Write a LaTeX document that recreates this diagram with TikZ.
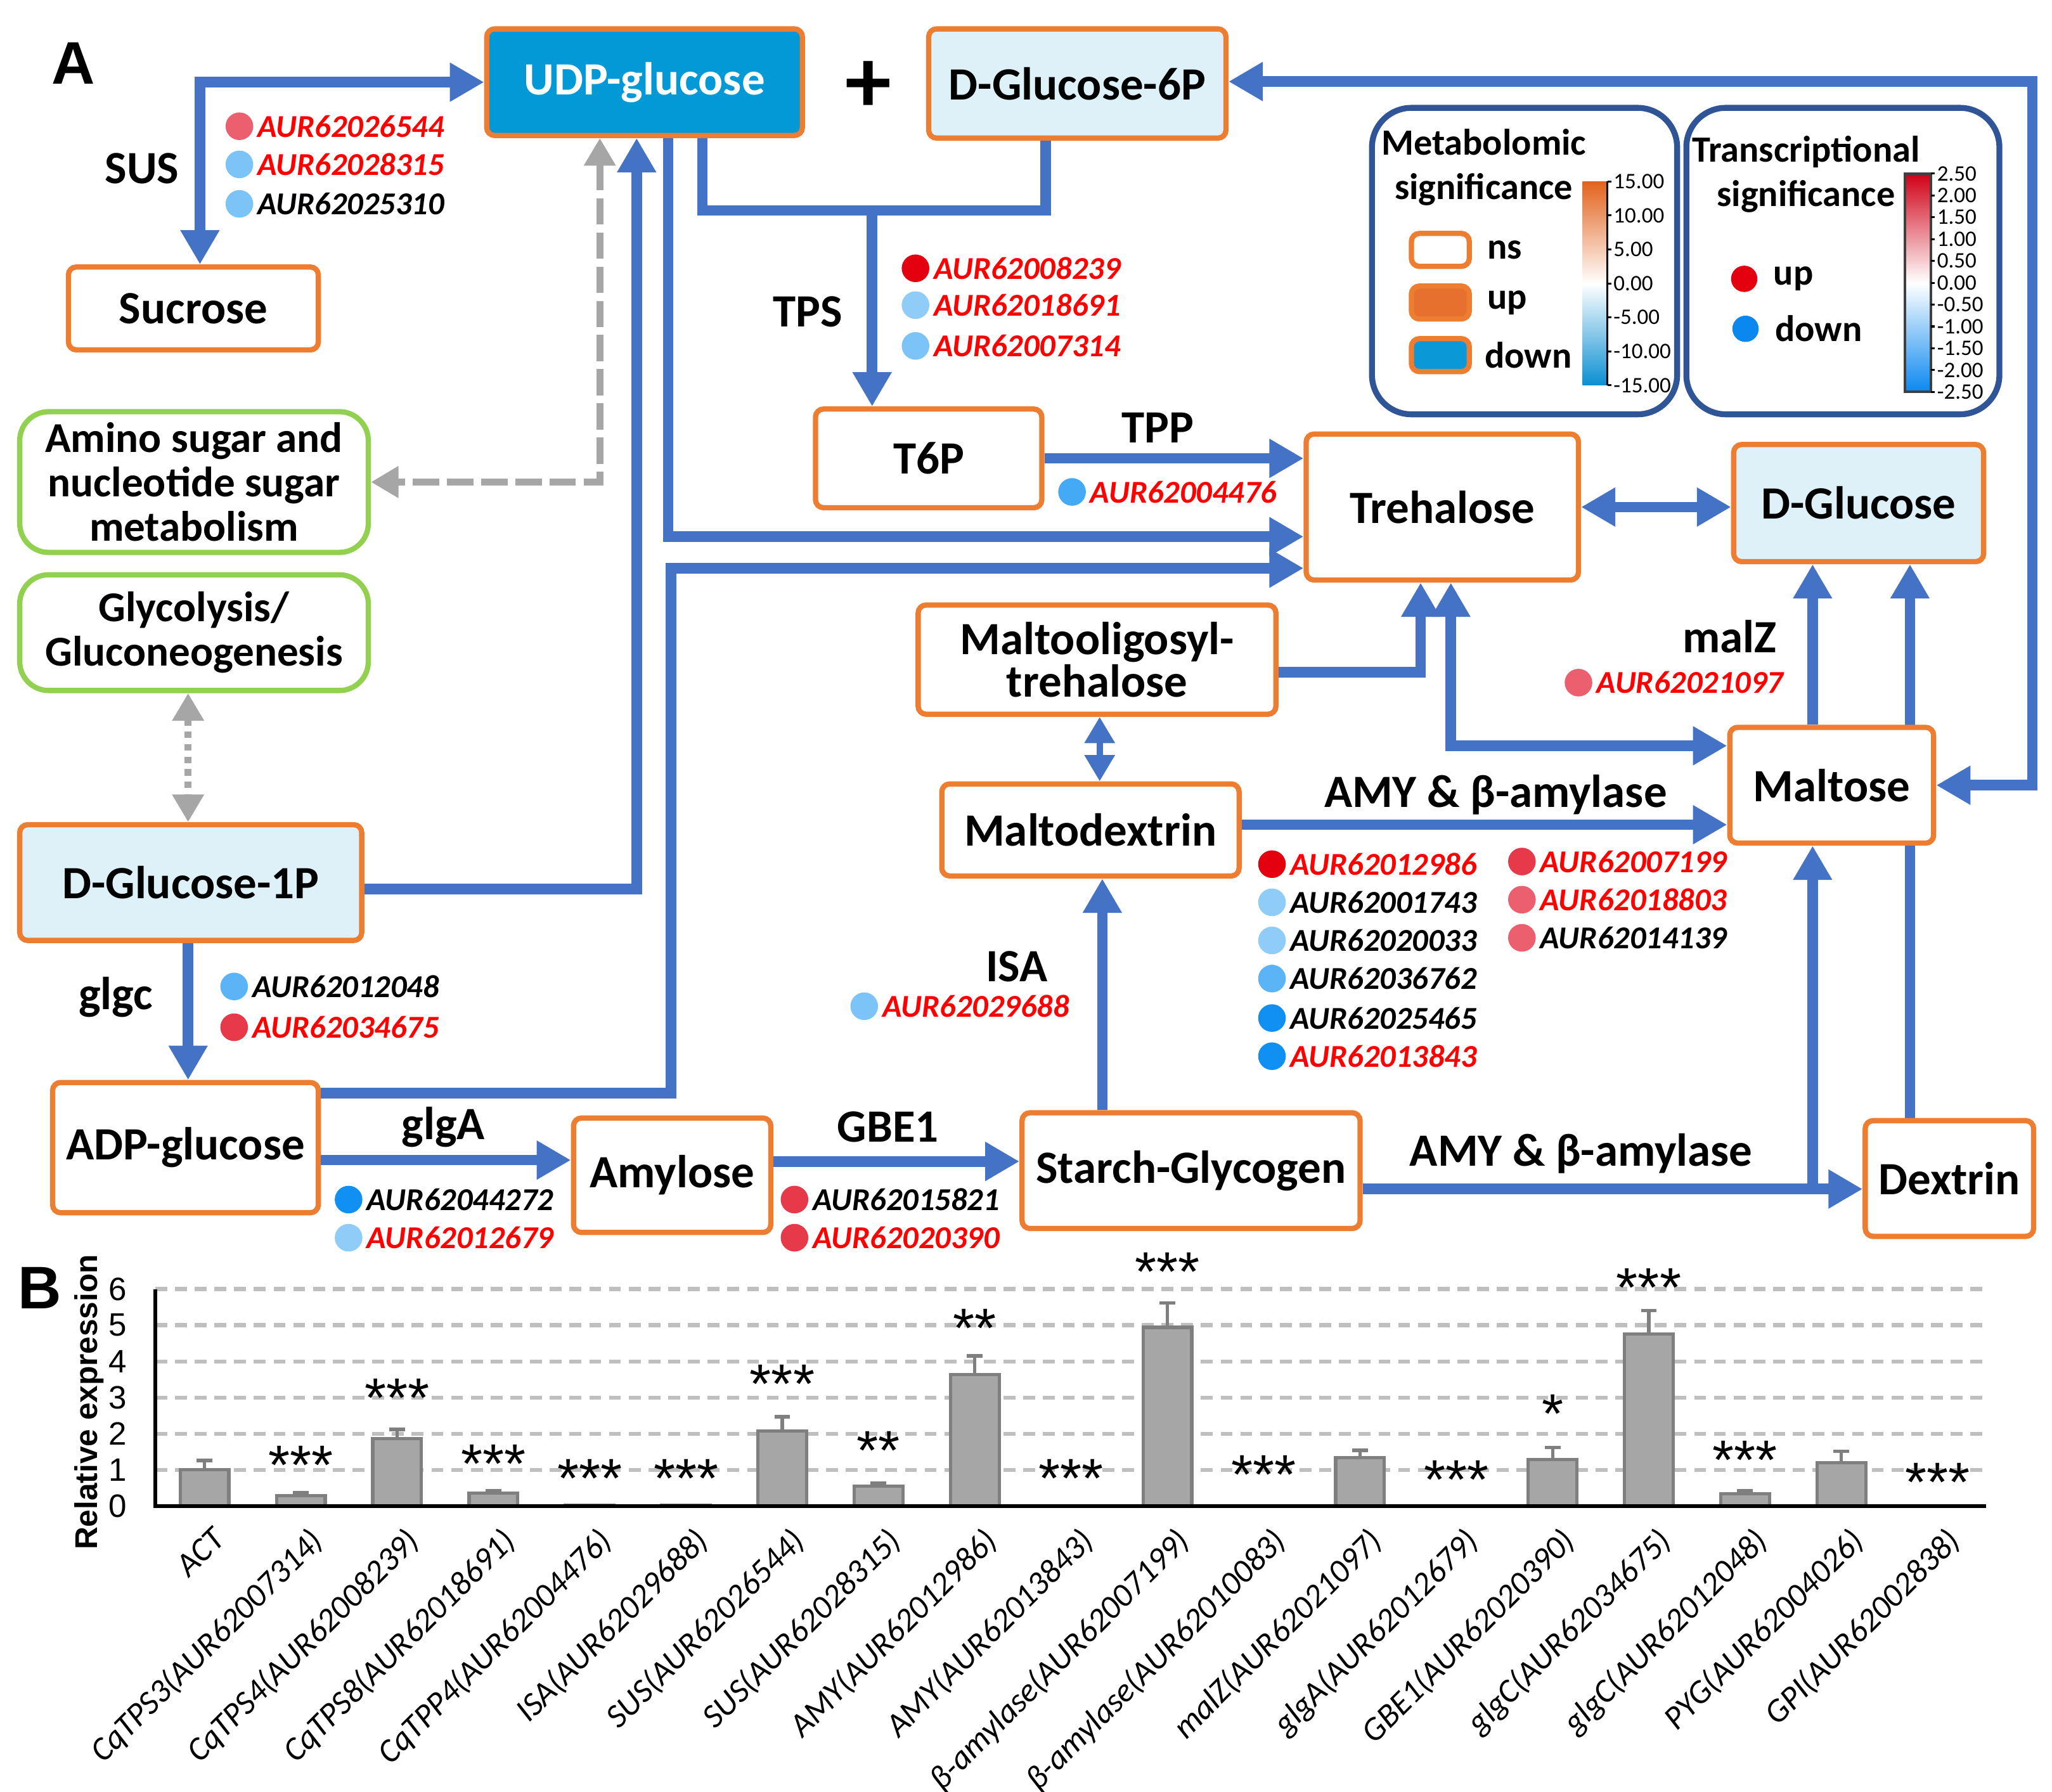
\documentclass[tikz,border=0pt]{standalone}
\usepackage{fontspec}
\setmainfont{Carlito}
\newfontfamily\arialfont{Liberation Sans}
\usetikzlibrary{arrows.meta,positioning,backgrounds}

\definecolor{flowblue}{HTML}{4472C4}
\definecolor{boxorange}{HTML}{ED7D31}
\definecolor{udpblue}{HTML}{0399D6}
\definecolor{paleblue}{HTML}{DEF1F9}
\definecolor{pathgreen}{HTML}{92D050}
\definecolor{legendnavy}{HTML}{2F5597}
\definecolor{linkgray}{HTML}{A6A6A6}
\definecolor{idred}{HTML}{FF0000}
\definecolor{upred}{HTML}{E3000F}
\definecolor{upmid}{HTML}{E63A4A}
\definecolor{uplight}{HTML}{EC5F6E}
\definecolor{downpale}{HTML}{8FCDF8}
\definecolor{downlight}{HTML}{7CC4F7}
\definecolor{downsoft}{HTML}{5AB4F6}
\definecolor{downmid}{HTML}{44AAF5}
\definecolor{downdeep}{HTML}{0F90F2}
\definecolor{metup}{HTML}{E8702E}
\definecolor{metdown}{HTML}{0A98D6}
\definecolor{metorange}{HTML}{E2621C}
\definecolor{metblue}{HTML}{0A8FD2}
\definecolor{transred}{HTML}{D00016}
\definecolor{transblue}{HTML}{0A88F0}
\definecolor{barfill}{HTML}{A6A6A6}
\definecolor{baredge}{HTML}{7F7F7F}
\definecolor{gridgray}{HTML}{BFBFBF}

\tikzset{
	met/.style={draw=boxorange, line width=0.4mm, rounded corners=0.6mm, align=center, inner sep=0pt, font=\bfseries\fontsize{10}{9.2}\selectfont},
	pathway/.style={draw=pathgreen, line width=0.4mm, rounded corners=2.2mm, align=center, inner sep=0pt, font=\bfseries\fontsize{9.2}{9.6}\selectfont},
	flow/.style={draw=flowblue, line width=0.8mm, ->},
	flowboth/.style={draw=flowblue, line width=0.8mm, <->},
	link/.style={draw=linkgray, line width=0.55mm, <->, >={Triangle[length=2.1mm,width=2.3mm]}},
	enz/.style={font=\bfseries\fontsize{10}{12}\selectfont, inner sep=0pt},
	gdot/.style={circle, minimum size=2.1mm, inner sep=0pt, label distance=0.35mm},
	gid/.style={font=\bfseries\itshape\fontsize{6.9}{8}\selectfont, inner sep=0.2mm},
	legbox/.style={draw=legendnavy, line width=0.45mm, rounded corners=3mm},
	legtext/.style={font=\bfseries\fontsize{8}{9.6}\selectfont, inner sep=0pt, align=center},
	swatch/.style={draw=boxorange, line width=0.4mm, rounded corners=0.6mm, minimum width=4.4mm, minimum height=2.5mm, inner sep=0pt},
	ticklab/.style={font=\fontsize{4.8}{5}\selectfont, inner sep=0pt, anchor=west},
	panel/.style={font=\arialfont\bfseries\fontsize{13}{14}\selectfont, inner sep=0pt},
	bar/.style={fill=barfill, draw=baredge, line width=0.25mm},
	errbar/.style={draw=baredge, line width=0.25mm},
	gridline/.style={draw=gridgray, line width=0.3mm, dash pattern=on 0.9mm off 0.6mm},
	star/.style={font=\arialfont\fontsize{12}{12}\selectfont, inner sep=0pt},
	genelab/.style={font=\itshape\fontsize{7.2}{8}\selectfont, rotate=45, anchor=north east, inner sep=0pt},
	ytick/.style={font=\arialfont\fontsize{7}{8}\selectfont, anchor=east, inner sep=0pt}
}

\begin{document}
\begin{tikzpicture}[x=0.1mm, y=-0.1mm, >={Triangle[length=2.6mm,width=2.8mm]}]
	\useasboundingbox (0,0) rectangle (1560,1362);

	\node[panel] (panelA) at (56,48) {A};
	\node[met, fill=udpblue, text=white, minimum width=24mm, minimum height=8.1mm] (udp) at (490,62.5) {UDP-glucose};
	\node[font=\bfseries\fontsize{20}{20}\selectfont, inner sep=0pt] (plus) at (660,66) {+};
	\node[met, fill=paleblue, minimum width=22.6mm, minimum height=8.3mm] (g6p) at (819,63.5) {D-Glucose-6P};
	\node[met, fill=white, minimum width=19mm, minimum height=6.3mm] (sucrose) at (147,234.5) {Sucrose};
	\node[pathway, minimum width=26.5mm, minimum height=10.7mm] (amino) at (147.5,366.5) {Amino sugar and\\nucleotide sugar\\metabolism};
	\node[pathway, minimum width=26.5mm, minimum height=8.8mm] (glyco) at (147.5,481) {Glycolysis/\\Gluconeogenesis};
	\node[met, fill=paleblue, minimum width=26mm, minimum height=8.8mm] (g1p) at (145,671) {D-Glucose-1P};
	\node[met, fill=white, minimum width=20.2mm, minimum height=9.9mm] (adp) at (141,872.5) {ADP-glucose};
	\node[met, fill=white, minimum width=15mm, minimum height=8.7mm] (amylose) at (511,893.5) {Amylose};
	\node[met, fill=white, minimum width=25.7mm, minimum height=8.8mm] (starch) at (905.5,890) {Starch-Glycogen};
	\node[met, fill=white, minimum width=12.8mm, minimum height=8.8mm] (dextrin) at (1482,896) {Dextrin};
	\node[met, fill=white, minimum width=22.6mm, minimum height=7mm] (mdex) at (829,631) {Maltodextrin};
	\node[met, fill=white, minimum width=27.2mm, minimum height=8.3mm] (moligo) at (834,501.5) {Maltooligosyl-\\trehalose};
	\node[met, fill=white, minimum width=17.2mm, minimum height=7.5mm] (t6p) at (706,348.5) {T6P};
	\node[met, fill=white, minimum width=20.7mm, minimum height=11.1mm] (treh) at (1096.5,385.5) {Trehalose};
	\node[met, fill=paleblue, minimum width=19mm, minimum height=8.9mm] (glc) at (1413,382.5) {D-Glucose};
	\node[met, fill=white, minimum width=15.5mm, minimum height=8.8mm] (maltose) at (1392.5,597) {Maltose};

	\node[enz] (sus) at (108,128) {SUS};
	\node[enz] (tps) at (614,237) {TPS};
	\node[enz] (tpp) at (880,325) {TPP};
	\node[enz] (glgc) at (88,758) {glgc};
	\node[enz] (glga) at (337,857) {glgA};
	\node[enz] (gbe) at (675,857) {GBE1};
	\node[enz] (isa) at (773,735) {ISA};
	\node[enz] (malz) at (1315,484) {malZ};
	\node[enz] (amyup) at (1137,604) {AMY \& β-amylase};
	\node[enz] (amylow) at (1202,877) {AMY \& β-amylase};

	\draw[flowboth] (udp.west) -| ([xshift=0.5mm]sucrose.north);
	\coordinate (tpsfork) at (663,160);
	\draw[flow, -] ([xshift=4.4mm]udp.south) |- (tpsfork) -| ([xshift=-2.4mm]g6p.south);
	\draw[flow] (tpsfork) -- (tpsfork |- t6p.north);
	\draw[flow] (t6p.east) -- (t6p.east -| treh.west);
	\draw[flow] ([xshift=1.8mm]udp.south) |- ([yshift=-2.25mm]treh.west);
	\draw[flow] ([yshift=-0.5mm]g1p.east) -| ([xshift=-0.6mm]udp.south);
	\draw[link, dash pattern=on 2mm off 0.6mm] ([xshift=-3.4mm]udp.south) |- (amino.east);
	\draw[link, dash pattern=on 0.5mm off 0.45mm] ([xshift=-0.45mm]glyco.south) -- ([xshift=-0.45mm]glyco.south |- g1p.north);
	\draw[flow] ([xshift=-0.2mm]g1p.south) -- ([xshift=-0.2mm]g1p.south |- adp.north);
	\coordinate (adpbend) at (510,432);
	\draw[flow] ([yshift=4.15mm]adp.east) -| (adpbend) -- (adpbend -| treh.west);
	\draw[flow] ([yshift=-0.95mm]adp.east) -- ([yshift=-0.95mm]adp.east -| amylose.west);
	\draw[flow] ([yshift=1.05mm]amylose.east) -- ([yshift=1.05mm]amylose.east -| starch.west);
	\draw[flow] ([xshift=-6.75mm]starch.north) -- ([xshift=-6.75mm]starch.north |- mdex.south);
	\draw[flowboth, line width=0.5mm, >={Triangle[length=2mm,width=2.2mm]}] ([xshift=0.2mm]moligo.south) -- ([xshift=0.2mm]moligo.south |- mdex.north);
	\draw[flow] ([yshift=-0.95mm]moligo.east) -| ([xshift=-1.65mm]treh.south);
	\draw[flowboth] ([xshift=0.65mm]treh.south) |- ([yshift=3mm]maltose.west);
	\draw[flowboth] (treh.east) -- (treh.east -| glc.west);
	\draw[flow] ([xshift=-1.45mm]maltose.north) -- ([xshift=-1.45mm]maltose.north |- glc.south);
	\begin{pgfonlayer}{background}
		\draw[flow] ([xshift=-3mm]dextrin.north) -- ([xshift=-3mm]dextrin.north |- glc.south);
	\end{pgfonlayer}
	\draw[flow] ([yshift=0.4mm]mdex.east) -- ([yshift=0.4mm]mdex.east -| maltose.west);
	\draw[flow] ([yshift=-1.4mm]starch.east) -- ([yshift=-1.4mm]starch.east -| dextrin.west);
	\coordinate (dexfork) at (1378,904);
	\draw[flow] (dexfork) -- (dexfork |- maltose.south);
	\coordinate (loopcorner) at (1545,62);
	\draw[flowboth] (maltose.east) -| (loopcorner) -- (loopcorner -| g6p.east);

	\node[gdot, fill=uplight, label={[gid, idred]right:AUR62026544}] (sus1) at (182,96) {};
	\node[gdot, fill=downlight, label={[gid, idred]right:AUR62028315}] (sus2) at (182,125) {};
	\node[gdot, fill=downlight, label={[gid]right:AUR62025310}] (sus3) at (182,155) {};
	\node[gdot, fill=upred, label={[gid, idred]right:AUR62008239}] (tps1) at (696,204) {};
	\node[gdot, fill=downpale, label={[gid, idred]right:AUR62018691}] (tps2) at (696,232) {};
	\node[gdot, fill=downlight, label={[gid, idred]right:AUR62007314}] (tps3) at (696,263) {};
	\node[gdot, fill=downmid, label={[gid, idred]right:AUR62004476}] (tpp1) at (815,374) {};
	\node[gdot, fill=uplight, label={[gid, idred]right:AUR62021097}] (malz1) at (1200,519) {};
	\node[gdot, fill=upred, label={[gid, idred]right:AUR62012986}] (amy1) at (967,657) {};
	\node[gdot, fill=downpale, label={[gid]right:AUR62001743}] (amy2) at (967,686) {};
	\node[gdot, fill=downpale, label={[gid]right:AUR62020033}] (amy3) at (967,715) {};
	\node[gdot, fill=downsoft, label={[gid]right:AUR62036762}] (amy4) at (967,744) {};
	\node[gdot, fill=downdeep, label={[gid]right:AUR62025465}] (amy5) at (967,774) {};
	\node[gdot, fill=downdeep, label={[gid, idred]right:AUR62013843}] (amy6) at (967,803) {};
	\node[gdot, fill=upmid, label={[gid, idred]right:AUR62007199}] (bam1) at (1157,655) {};
	\node[gdot, fill=uplight, label={[gid, idred]right:AUR62018803}] (bam2) at (1157,684) {};
	\node[gdot, fill=uplight, label={[gid]right:AUR62014139}] (bam3) at (1157,713) {};
	\node[gdot, fill=downlight, label={[gid, idred]right:AUR62029688}] (isa1) at (657,765) {};
	\node[gdot, fill=downsoft, label={[gid]right:AUR62012048}] (glgc1) at (178,750) {};
	\node[gdot, fill=upmid, label={[gid, idred]right:AUR62034675}] (glgc2) at (178,781) {};
	\node[gdot, fill=downdeep, label={[gid]right:AUR62044272}] (glga1) at (265,912) {};
	\node[gdot, fill=downpale, label={[gid, idred]right:AUR62012679}] (glga2) at (265,941) {};
	\node[gdot, fill=upmid, label={[gid]right:AUR62015821}] (gbe1) at (604,912) {};
	\node[gdot, fill=upmid, label={[gid, idred]right:AUR62020390}] (gbe2) at (604,941) {};

	\node[legbox, minimum width=23.2mm, minimum height=23.3mm] (metbox) at (1159,198.5) {};
	\node[legtext] (mettitle) at (1128,127) {Metabolomic\\significance};
	\node[swatch, fill=white] (nsbox) at (1095,190) {};
	\node[legtext, right=1.1mm of nsbox] (nslab) {ns};
	\node[swatch, fill=metup] (upbox) at (1095,230) {};
	\node[legtext, right=1.1mm of upbox] (uplab) {up};
	\node[swatch, fill=metdown] (downbox) at (1095,270) {};
	\node[legtext, right=0.9mm of downbox] (downlab) {down};
	\shade[top color=metorange, bottom color=metblue, middle color=white] (1203,138) rectangle (1222,293);
	\draw[line width=0.15mm] (1222,138) -- (1222,293);
	\foreach \t [count=\k from 0] in {15.00,10.00,5.00,0.00,-5.00,-10.00,-15.00} {
		\draw[line width=0.15mm] (1222,{138+25.83*\k}) -- (1225,{138+25.83*\k});
		\node[ticklab] (mtick\k) at (1226,{138+25.83*\k}) {\t};
	}

	\node[legbox, minimum width=23.8mm, minimum height=23.3mm] (trbox) at (1401,198.5) {};
	\node[legtext] (trtitle) at (1373,132.5) {Transcriptional\\significance};
	\node[gdot, fill=upred, minimum size=2mm] (updot) at (1326,212) {};
	\node[legtext, right=1.1mm of updot] (uptr) {up};
	\node[gdot, fill=transblue, minimum size=2mm] (downdot) at (1327,250) {};
	\node[legtext, right=1.1mm of downdot] (downtr) {down};
	\shade[top color=transred, bottom color=transblue, middle color=white] (1448,132) rectangle (1468,298);
	\draw[line width=0.2mm, darkgray] (1448,132) rectangle (1468,298);
	\foreach \t [count=\k from 0] in {2.50,2.00,1.50,1.00,0.50,0.00,-0.50,-1.00,-1.50,-2.00,-2.50} {
		\draw[line width=0.15mm] (1468,{132+16.6*\k}) -- (1471,{132+16.6*\k});
		\node[ticklab] (ttick\k) at (1472,{132+16.6*\k}) {\t};
	}

	\node[panel] (panelB) at (30,979) {B};
	\foreach \v in {1,...,6}
		\draw[gridline] (118,{1145-27.5*\v}) -- (1510,{1145-27.5*\v});
	\foreach \v in {0,...,6}
		\node[ytick] (ytick\v) at (97,{1145-27.5*\v}) {\v};
	\node[font=\arialfont\bfseries\fontsize{6.8}{8}\selectfont, rotate=90, inner sep=0pt] (ylabel) at (68,1066) {Relative expression};
	\foreach \val/\err [count=\i from 0] in {1.00/1.26, 0.29/0.37, 1.87/2.12, 0.36/0.42, 0.02/0.02, 0.02/0.02, 2.07/2.47, 0.55/0.64, 3.63/4.15, 0.01/0.01, 4.94/5.62, 0.01/0.01, 1.34/1.54, 0.01/0.01, 1.28/1.62, 4.76/5.40, 0.34/0.43, 1.20/1.51, 0.01/0.01} {
		\pgfmathsetmacro\bx{155.5+73.2*\i}
		\draw[bar] ({\bx-18.5},1145) rectangle ({\bx+18.5},{1145-27.5*\val});
		\draw[errbar] (\bx,{1145-27.5*\val}) -- (\bx,{1145-27.5*\err}) ({\bx-6},{1145-27.5*\err}) -- ({\bx+6},{1145-27.5*\err});
	}
	\draw[line width=0.3mm] (118,980) -- (118,1145) -- (1510,1145);
	\foreach \i/\ypos/\mark in {1/1114/***, 2/1063/***, 3/1113/***, 4/1124/***, 5/1124/***, 6/1052/***, 7/1103/**, 8/1010/**, 9/1124/***, 10/967/***, 11/1121/***, 13/1125/***, 14/1075/*, 15/979/***, 16/1110/***, 18/1127/***}
		\node[star] (star\i) at ({155.5+73.2*\i},\ypos) {\mark};
	\foreach \lab [count=\i from 0] in {ACT, CqTPS3(AUR62007314), CqTPS4(AUR62008239), CqTPS8(AUR62018691), CqTPP4(AUR62004476), ISA(AUR62029688), SUS(AUR62026544), SUS(AUR62028315), AMY(AUR62012986), AMY(AUR62013843), β-amylase(AUR62007199), β-amylase(AUR62010083), malZ(AUR62021097), glgA(AUR62012679), GBE1(AUR62020390), glgC(AUR62034675), glgC(AUR62012048), PYG(AUR62004026), GPI(AUR62002838)}
		\node[genelab] (lab\i) at ({155.5+73.2*\i+5},1159) {\lab};
\end{tikzpicture}
\end{document}
